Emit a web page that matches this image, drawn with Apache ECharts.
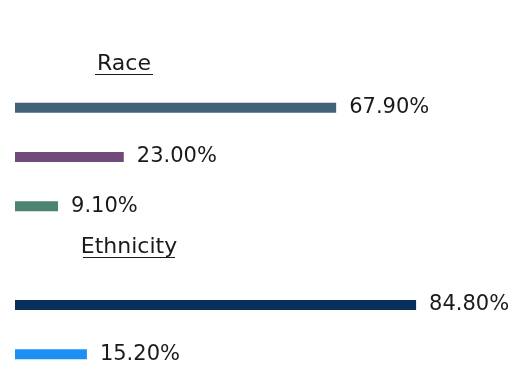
<!DOCTYPE html>
<html>
<head>
<meta charset="utf-8">
<script src="https://cdn.jsdelivr.net/npm/echarts@6/dist/echarts.min.js"></script>
<style>html,body{margin:0;padding:0;background:#fff}#c{width:512px;height:392px}</style>
</head>
<body>
<div id="c"></div>
<script>
// Data
const categories = ['White', 'Black', 'Other', '', 'Non-Hispanic', 'Hispanic'];
const values = [67.9, 23.0, 9.1, null, 84.8, 15.2];
const groupTitles = ['Race', 'Ethnicity'];

// Styles
const colors = ['#42627a', '#714a7a', '#4b8570', null, '#08305a', '#1b8ff3'];
const FONT = 'DejaVu Sans';

const chart = echarts.init(document.getElementById('c'), null, {renderer: 'canvas'});
const data = values.map((v, i) => v == null ? '-' : ({value: v, itemStyle: {color: colors[i]}}));

function titleGroup(text, cx, cy, x1, x2, uy) {
  return {
    type: 'group',
    children: [
      {type: 'text', x: cx, y: cy, style: {text: text, font: '22px "' + FONT + '"', fill: '#1a1a1a', textAlign: 'center', textVerticalAlign: 'middle'}},
      {type: 'line', shape: {x1: x1, y1: uy, x2: x2, y2: uy}, style: {stroke: '#1a1a1a', lineWidth: 1}}
    ]
  };
}

chart.setOption({
  animation: false,
  backgroundColor: '#ffffff',
  grid: {left: 15, right: 24, top: 83, height: 296, containLabel: false},
  xAxis: {type: 'value', min: 0, max: 100, show: false},
  yAxis: {type: 'category', data: categories, inverse: true, show: false},
  series: [{
    type: 'bar',
    data: data,
    barWidth: 10,
    label: {
      show: true,
      position: 'right',
      distance: 13,
      color: '#1a1a1a',
      fontFamily: FONT,
      fontSize: 21,
      formatter: p => p.value.toFixed(2) + '%'
    }
  }],
  graphic: [
    titleGroup(groupTitles[0], 124, 64, 95, 153, 74.5),
    titleGroup(groupTitles[1], 129, 247, 83, 175, 257.5)
  ]
});
</script>
</body>
</html>
